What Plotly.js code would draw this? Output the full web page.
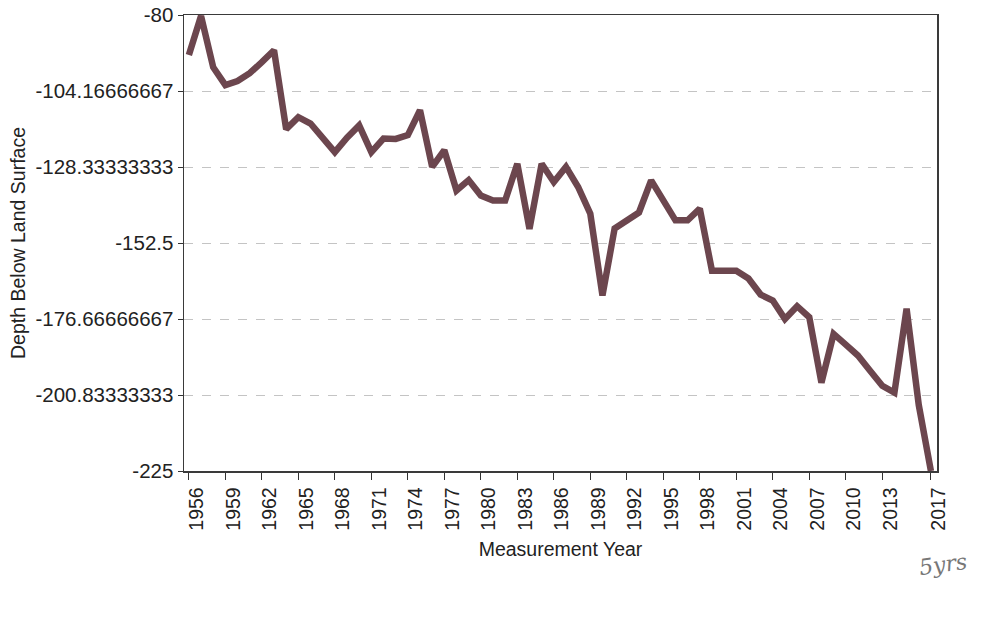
<!DOCTYPE html>
<html>
<head>
<meta charset="utf-8">
<script src="https://cdn.plot.ly/plotly-3.0.1.min.js"></script>
<style>
html,body{margin:0;padding:0;background:#fff;}
#chart{width:1007px;height:620px;}
</style>
</head>
<body>
<div id="chart"></div>
<script>
const years = [1956,1957,1958,1959,1960,1961,1962,1963,1964,1965,1966,1967,1968,1969,1970,
  1971,1972,1973,1974,1975,1976,1977,1978,1979,1980,1981,1982,1983,1984,1985,1986,1987,1988,
  1989,1990,1991,1992,1993,1994,1995,1996,1997,1998,1999,2000,2001,2002,2003,2004,2005,2006,
  2007,2008,2009,2010,2011,2012,2013,2014,2015,2016,2017];
const depth = [-92.7,-80.3,-96.6,-102.3,-101.0,-98.5,-95.0,-91.2,-116.3,-112.5,-114.5,-119.0,-123.6,-119.0,-115.1,
  -123.6,-119.3,-119.4,-118.2,-110.3,-128.3,-123.0,-135.8,-132.5,-137.4,-139.0,-139.0,-127.3,-148.0,-127.3,-133.1,-128.3,-134.7,
  -143.2,-169.2,-147.9,-145.1,-142.8,-132.6,-138.8,-145.3,-145.3,-141.6,-161.3,-161.3,-161.3,-163.8,-168.9,-170.8,-176.7,-172.6,
  -176.1,-196.9,-181.4,-184.8,-188.3,-193.1,-197.9,-200.1,-173.4,-204.0,-225.0];
const xTickVals = [1956,1959,1962,1965,1968,1971,1974,1977,1980,1983,1986,1989,1992,1995,1998,2001,2004,2007,2010,2013,2017];
const xTickText = xTickVals.map(String);
const yTickVals = [-80,-104.16666667,-128.33333333,-152.5,-176.66666667,-200.83333333,-225];
const yTickText = ["-80","-104.16666667","-128.33333333","-152.5","-176.66666667","-200.83333333","-225"];

const fontFam = '"Liberation Sans", Arial, sans-serif';
const trace = {
  x: years, y: depth, type: 'scatter', mode: 'lines',
  line: {color: '#6c464e', width: 6.5, shape: 'linear'},
  hoverinfo: 'x+y'
};
const layout = {
  width: 1007, height: 620,
  margin: {l: 184, r: 70, t: 15, b: 149},
  paper_bgcolor: '#ffffff', plot_bgcolor: '#ffffff',
  showlegend: false,
  font: {family: fontFam, color: '#222222', size: 18},
  xaxis: {
    range: [1955.6, 2017.5],
    tickmode: 'array', tickvals: xTickVals, ticktext: xTickText,
    tickangle: -90, ticks: 'outside', ticklen: 7, tickcolor: '#333',
    ticklabelshift: 8,
    tickfont: {size: 19.5, color: '#222', family: fontFam},
    showgrid: false, zeroline: false,
    showline: true, linecolor: '#3a3a3a', linewidth: 1.5, mirror: true,
    title: {text: 'Measurement Year', font: {size: 19.5, color: '#222', family: fontFam}, standoff: 12}
  },
  yaxis: {
    range: [-225, -80],
    tickmode: 'array', tickvals: yTickVals, ticktext: yTickText,
    ticks: 'outside', ticklen: 5, tickcolor: '#333',
    tickfont: {size: 20.5, color: '#222', family: fontFam},
    showgrid: true, gridcolor: '#c4c4c4', griddash: 'dash', gridwidth: 1,
    zeroline: false,
    showline: true, linecolor: '#3a3a3a', linewidth: 1.5, mirror: true,
    title: {text: 'Depth Below Land Surface', font: {size: 19.5, color: '#222', family: fontFam}, standoff: 4}
  },
  annotations: [
    {xref: 'paper', yref: 'paper', x: 1.045, y: -0.245, text: '5yrs', showarrow: false,
     textangle: -8, font: {family: '"DejaVu Serif", serif', size: 22, color: '#777', style: 'italic'}}
  ]
};
Plotly.newPlot('chart', [trace], layout, {displayModeBar: false, staticPlot: true});
</script>
</body>
</html>
